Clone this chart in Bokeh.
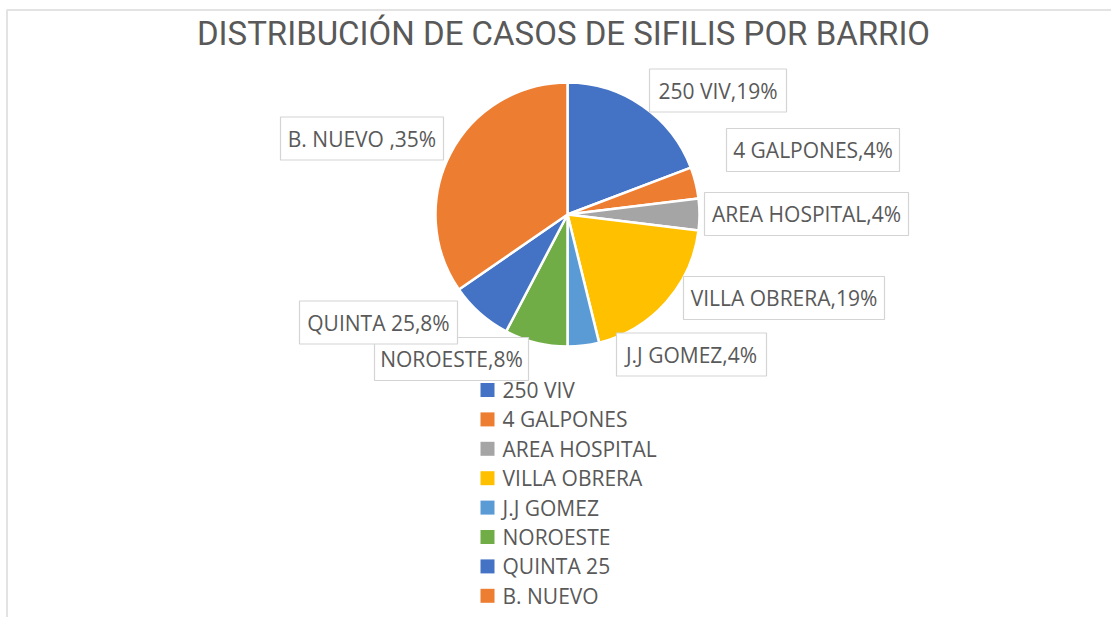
import math
from bokeh.plotting import figure
from bokeh.models import Range1d, ColumnDataSource
from bokeh.core.properties import value
from bokeh.embed import file_html
from bokeh.resources import INLINE

# ---- data ----
barrios = ["250 VIV", "4 GALPONES", "AREA HOSPITAL", "VILLA OBRERA",
           "J.J GOMEZ", "NOROESTE", "QUINTA 25", "B. NUEVO"]
casos = [5, 1, 1, 5, 1, 2, 2, 9]
label_names = ["250 VIV", "4 GALPONES", "AREA HOSPITAL", "VILLA OBRERA",
               "J.J GOMEZ", "NOROESTE", "QUINTA 25", "B. NUEVO "]
colores = ["#4472C4", "#ED7D31", "#A5A5A5", "#FFC000",
           "#5B9BD5", "#70AD47", "#4472C4", "#ED7D31"]
titulo = "DISTRIBUCIÓN DE CASOS DE SIFILIS POR BARRIO"

# ---- layout (screenshot pixel coordinates) ----
W, H = 1111, 617
def X(px): return px
def Y(py): return H - py

CX, CY, R = 567, 214, 132
# label box centers and widths
label_boxes = [(717.5, 90, 137), (812.5, 149.5, 173), (806, 213.5, 204),
               (783.5, 297.5, 201), (691, 354, 150), (451, 358.5, 154),
               (378, 322, 158), (361.5, 138, 163)]
BOX_H = 43
GRAY = "#595959"
FONT = value("Open Sans")

p = figure(width=W, height=H, output_backend="svg", toolbar_location=None,
           x_range=Range1d(0, W), y_range=Range1d(0, H), min_border=0)
p.axis.visible = False
p.grid.visible = False
p.outline_line_color = None
p.background_fill_color = "white"

# outer chart border (top & left visible)
p.quad(left=[X(6.5)], right=[X(1400)], top=[Y(9.5)], bottom=[Y(1000)],
       fill_color=None, line_color="#E3E3E3", line_width=2)

# pie wedges
total = sum(casos)
starts, ends, cum = [], [], 0.0
for v in casos:
    a0 = math.pi / 2 - 2 * math.pi * cum / total
    cum += v
    a1 = math.pi / 2 - 2 * math.pi * cum / total
    starts.append(a0)
    ends.append(a1)
src = ColumnDataSource(dict(start=starts, end=ends, color=colores))
p.wedge(x=X(CX), y=Y(CY), radius=R, radius_units="screen",
        start_angle="start", end_angle="end", direction="clock",
        fill_color="color", line_color="white", line_width=2.5, source=src)

# data labels
pcts = [round(100 * v / total) for v in casos]
lab_text = [f"{n},{pc}%" for n, pc in zip(label_names, pcts)]
bx = [X(b[0]) for b in label_boxes]
by = [Y(b[1]) for b in label_boxes]
bw = [b[2] for b in label_boxes]
p.rect(x=bx, y=by, width=bw, height=BOX_H, fill_color="white",
       line_color="#D4D4D4", line_width=1.2)
p.text(x=bx, y=by, text=lab_text, text_font=FONT,
       text_font_size="21px", text_color=GRAY, text_align="center",
       text_baseline="middle")

# legend
LEG_X, LEG_Y0, LEG_DY, SQ = 487, 389.5, 29.4, 14
ly = [Y(LEG_Y0 + i * LEG_DY) for i in range(len(barrios))]
p.rect(x=[X(LEG_X)] * len(barrios), y=ly, width=SQ, height=SQ,
       fill_color=colores, line_color=None)
p.text(x=[X(LEG_X + 15)] * len(barrios), y=ly, text=barrios,
       text_font=FONT, text_font_size="21px", text_color=GRAY,
       text_align="left", text_baseline="middle")

# title
p.text(x=[X(563)], y=[Y(33)], text=[titulo],
       text_font=value("Roboto"), text_font_size="33px",
       text_color=GRAY, text_align="center", text_baseline="middle")

open("out.html", "w").write(file_html(p, INLINE))
